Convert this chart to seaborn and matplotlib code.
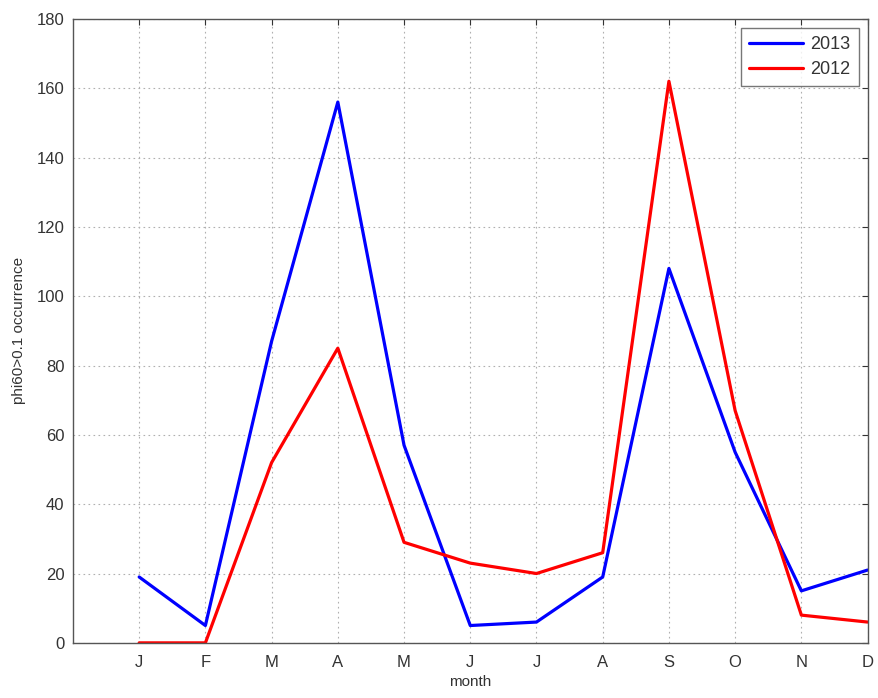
import matplotlib
matplotlib.use("Agg")
import matplotlib.pyplot as plt
import seaborn as sns
import pandas as pd

months = ["J", "F", "M", "A", "M", "J", "J", "A", "S", "O", "N", "D"]
month_num = list(range(1, 13))
vals_2013 = [19, 5, 87, 156, 57, 5, 6, 19, 108, 55, 15, 21]
vals_2012 = [0, 0, 52, 85, 29, 23, 20, 26, 162, 67, 8, 6]
series = ["2013", "2012"]
colors = {"2013": "#0000ff", "2012": "#ff0000"}

df = pd.DataFrame({
    "month": month_num * 2,
    "value": vals_2013 + vals_2012,
    "year": ["2013"] * 12 + ["2012"] * 12,
})

sns.set_style("white")
plt.rcParams["font.family"] = ["Liberation Sans", "DejaVu Sans"]

fig = plt.figure(figsize=(8.79, 6.98), dpi=100)
ax = fig.add_axes([0.083, 0.079, 0.904, 0.894])

sns.lineplot(data=df, x="month", y="value", hue="year", hue_order=series,
             palette=colors, linewidth=2.3, ax=ax)

ax.set_xlim(0, 12)
ax.set_ylim(0, 180)
ax.set_xticks(month_num)
ax.set_xticklabels(months)
ax.set_yticks(range(0, 181, 20))
ax.tick_params(axis="both", direction="in", labelsize=12, colors="#333333",
               top=True, right=True, length=4)
ax.tick_params(axis="x", pad=9)
ax.tick_params(axis="y", pad=6)
ax.grid(True, linestyle=(0, (1.5, 3)), color="#b0b0b0", linewidth=0.8)
for s in ax.spines.values():
    s.set_color("#555555")
    s.set_linewidth(1.0)
ax.set_xlabel("month", fontsize=11, color="#333333", labelpad=3)
ax.set_ylabel("phi60>0.1 occurrence", fontsize=11, color="#333333", labelpad=8)

leg = ax.legend(loc="upper right", fontsize=13, frameon=True, fancybox=False,
                edgecolor="#555555", handlelength=3.0, borderpad=0.45,
                labelspacing=0.45, handletextpad=0.4, borderaxespad=0.5)
for t in leg.get_texts():
    t.set_color("#333333")

fig.savefig("out.png", dpi=100)
